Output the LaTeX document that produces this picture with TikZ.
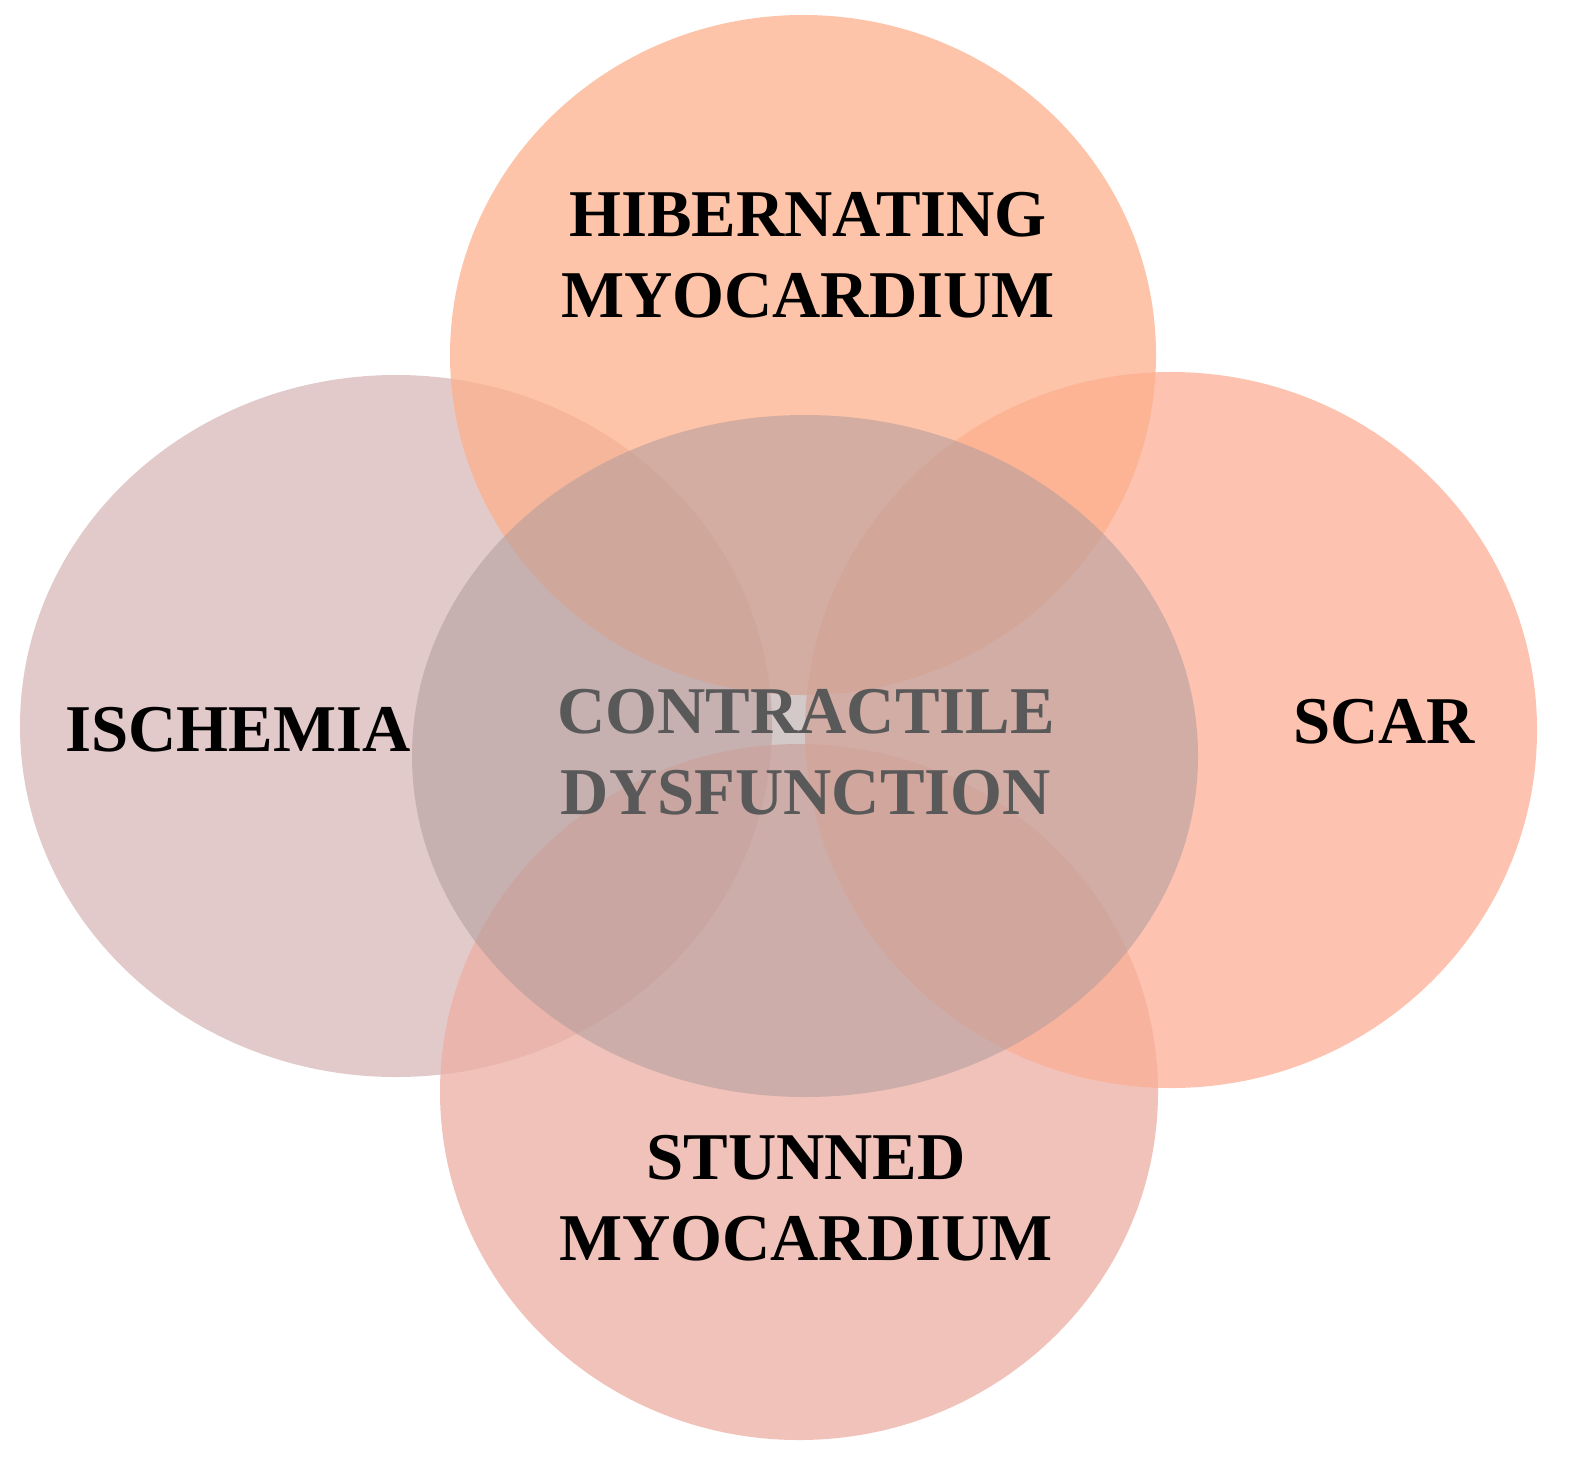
\documentclass[tikz,border=0pt]{standalone}
\usepackage{fontspec}
\setmainfont{Liberation Serif}
\begin{document}
\begin{tikzpicture}[x=0.01cm,y=-0.01cm,
  blob/.style={fill opacity=0.75,draw=none},
  lab/.style={font=\fontsize{19}{23}\selectfont\bfseries,align=center,text=black}]
\useasboundingbox (0,0) rectangle (1580,1476);
\definecolor{cTop}{HTML}{FDB08C}
\definecolor{cLeft}{HTML}{D9B8B8}
\definecolor{cRight}{HTML}{FCAE96}
\definecolor{cBot}{HTML}{ECAEA2}
\definecolor{cMid}{HTML}{B09C9C}
\fill[blob,cLeft] (396,726) ellipse [x radius=376,y radius=351];
\fill[blob,cBot] (799,1092) ellipse [x radius=359,y radius=348];
\fill[blob,cRight] (1171,730) ellipse [x radius=366,y radius=358];
\fill[blob,cTop] (803,355) ellipse [x radius=353,y radius=340];
\fill[cMid,fill opacity=0.55] (805,756) ellipse [x radius=393,y radius=341];
\node[lab] (hib) at (808,255) {HIBERNATING\\MYOCARDIUM};
\node[lab] (isc) at (238,730) {ISCHEMIA};
\node[lab] (scar) at (1384,722) {SCAR};
\node[lab] (stun) at (806,1198) {STUNNED\\MYOCARDIUM};
\node[lab,text=black!65] (con) at (806,752) {CONTRACTILE\\DYSFUNCTION};
\end{tikzpicture}
\end{document}
